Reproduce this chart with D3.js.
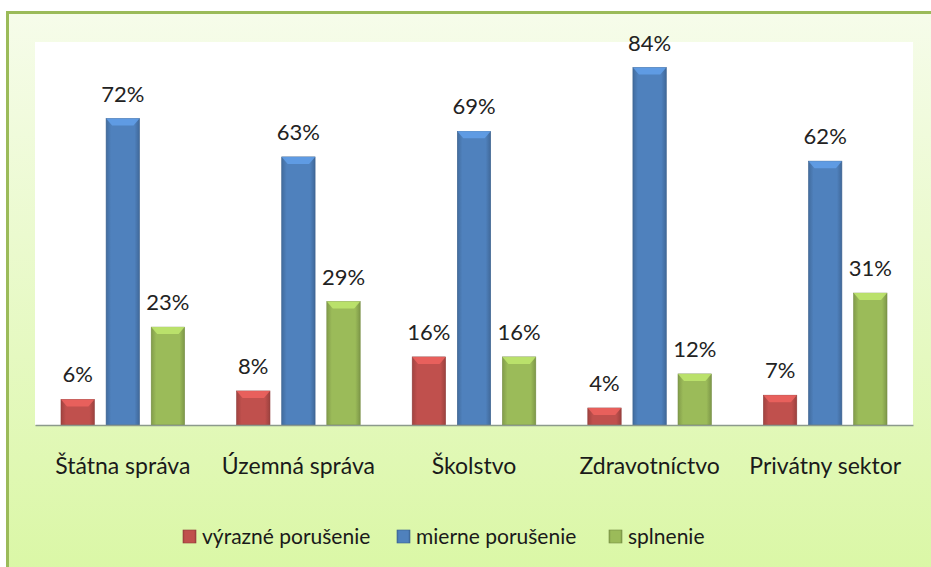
<!DOCTYPE html>
<html lang="sk">
  <head>
    <meta charset="UTF-8" />
    <title>Chart</title>
    <style>
      body {
        margin: 0;
        width: 931px;
        height: 567px;
        overflow: hidden;
        background: #fff;
      }
      * {
        font-family: Lato, "Open Sans", sans-serif;
      }
    </style>
    <script src="https://cdn.jsdelivr.net/npm/d3@7"></script>
  </head>
  <body>
    <div class="chart-box"></div>
    <script>
      const categories = [
        "Štátna správa",
        "Územná správa",
        "Školstvo",
        "Zdravotníctvo",
        "Privátny sektor",
      ];
      const seriesNames = ["výrazné porušenie", "mierne porušenie", "splnenie"];
      const vyrazne = [6, 8, 16, 4, 7];
      const mierne = [72, 63, 69, 84, 62];
      const splnenie = [23, 29, 16, 12, 31];
      const colors = ["#c0504d", "#4f81bd", "#9bbb59"];

      const W = 931,
        H = 567;
      const margin = { top: 42, right: 18, bottom: 142, left: 35 };
      const width = W - margin.left - margin.right;
      const height = H - margin.top - margin.bottom;

      const svg = d3
        .select(".chart-box")
        .append("svg")
        .attr("width", W)
        .attr("height", H);

      const defs = svg.append("defs");

      // chart background
      const bg = defs
        .append("linearGradient")
        .attr("id", "bg")
        .attr("x1", 0)
        .attr("y1", 0)
        .attr("x2", 0)
        .attr("y2", 1);
      bg.append("stop").attr("offset", "0%").attr("stop-color", "#f6fcea");
      bg.append("stop").attr("offset", "100%").attr("stop-color", "#daf7a5");

      svg
        .append("rect")
        .attr("x", 7.5)
        .attr("y", 12.5)
        .attr("width", W)
        .attr("height", H)
        .attr("fill", "url(#bg)")
        .attr("stroke", "#9bbb59")
        .attr("stroke-width", 3);

      // bar gradients (horizontal shading)
      colors.forEach((c, i) => {
        const g = defs
          .append("linearGradient")
          .attr("id", "bar" + i)
          .attr("x1", 0)
          .attr("x2", 1);
        const base = d3.color(c);
        g.append("stop").attr("offset", "0%").attr("stop-color", base.darker(0.5));
        g.append("stop").attr("offset", "15%").attr("stop-color", base);
        g.append("stop").attr("offset", "85%").attr("stop-color", base);
        g.append("stop").attr("offset", "100%").attr("stop-color", base.darker(0.6));
      });

      const g = svg
        .append("g")
        .attr("transform", "translate(" + margin.left + "," + margin.top + ")");

      g.append("rect")
        .attr("width", width)
        .attr("height", height)
        .attr("fill", "#fff");

      const x = d3.scaleBand().domain(categories).range([0, width]).padding(0);
      const x1 = d3
        .scaleBand()
        .domain(d3.range(3))
        .range([26, x.bandwidth() - 26])
        .paddingInner(0.26);
      const y = d3.scaleLinear().domain([0, 90]).range([height, 0]);

      const series = [vyrazne, mierne, splnenie];
      const data = [];
      categories.forEach((cat, ci) => {
        series.forEach((s, si) => {
          data.push({ cat, si, val: s[ci] });
        });
      });

      const bars = g
        .selectAll(".bar")
        .data(data)
        .enter()
        .append("g")
        .attr("class", "bar");

      bars
        .append("rect")
        .attr("x", (d) => x(d.cat) + x1(d.si))
        .attr("y", (d) => y(d.val))
        .attr("width", x1.bandwidth())
        .attr("height", (d) => height - y(d.val))
        .attr("fill", (d) => "url(#bar" + d.si + ")")
        .attr("stroke", (d) => d3.color(colors[d.si]).darker(0.8))
        .attr("stroke-width", 0.6);

      // top bevel
      bars
        .append("path")
        .attr("d", (d) => {
          const x0 = x(d.cat) + x1(d.si);
          const w = x1.bandwidth();
          const y0 = y(d.val);
          const b = Math.min(7, (height - y0) / 2);
          return (
            "M" + x0 + "," + y0 +
            "L" + (x0 + w) + "," + y0 +
            "L" + (x0 + w - 6) + "," + (y0 + b) +
            "L" + (x0 + 6) + "," + (y0 + b) + "Z"
          );
        })
        .attr("fill", (d) => d3.color(colors[d.si]).brighter(0.6))
        .attr("opacity", 0.85);

      // value labels
      g.selectAll(".lbl")
        .data(data)
        .enter()
        .append("text")
        .attr("x", (d) => x(d.cat) + x1(d.si) + x1.bandwidth() / 2)
        .attr("y", (d) => y(d.val) - 17)
        .attr("text-anchor", "middle")
        .attr("font-size", 22)
        .attr("fill", "#222")
        .text((d) => d.val + "%");

      // x axis
      const xAxis = g
        .append("g")
        .attr("transform", "translate(0," + height + ")")
        .call(d3.axisBottom(x).tickSize(0).tickPadding(33));
      xAxis.select(".domain").attr("stroke", "#8c9a8c").attr("stroke-width", 1.5);
      xAxis
        .selectAll("text")
        .attr("font-size", 23)
        .attr("fill", "#1a1a1a")
        .attr("font-family", "Lato, 'Open Sans', sans-serif");

      // legend
      const legendX = [183, 397, 609];
      const legend = svg
        .append("g")
        .selectAll("g")
        .data(seriesNames)
        .enter()
        .append("g")
        .attr("transform", (d, i) => "translate(" + legendX[i] + ",537)");
      legend
        .append("rect")
        .attr("x", 0)
        .attr("y", -7)
        .attr("width", 13)
        .attr("height", 13)
        .attr("fill", (d, i) => "url(#bar" + i + ")")
        .attr("stroke", (d, i) => d3.color(colors[i]).darker(0.8))
        .attr("stroke-width", 0.6);
      legend
        .append("text")
        .attr("x", 19)
        .attr("y", 7)
        .attr("font-size", 21)
        .attr("fill", "#1a1a1a")
        .text((d) => d);
    </script>
  </body>
</html>
